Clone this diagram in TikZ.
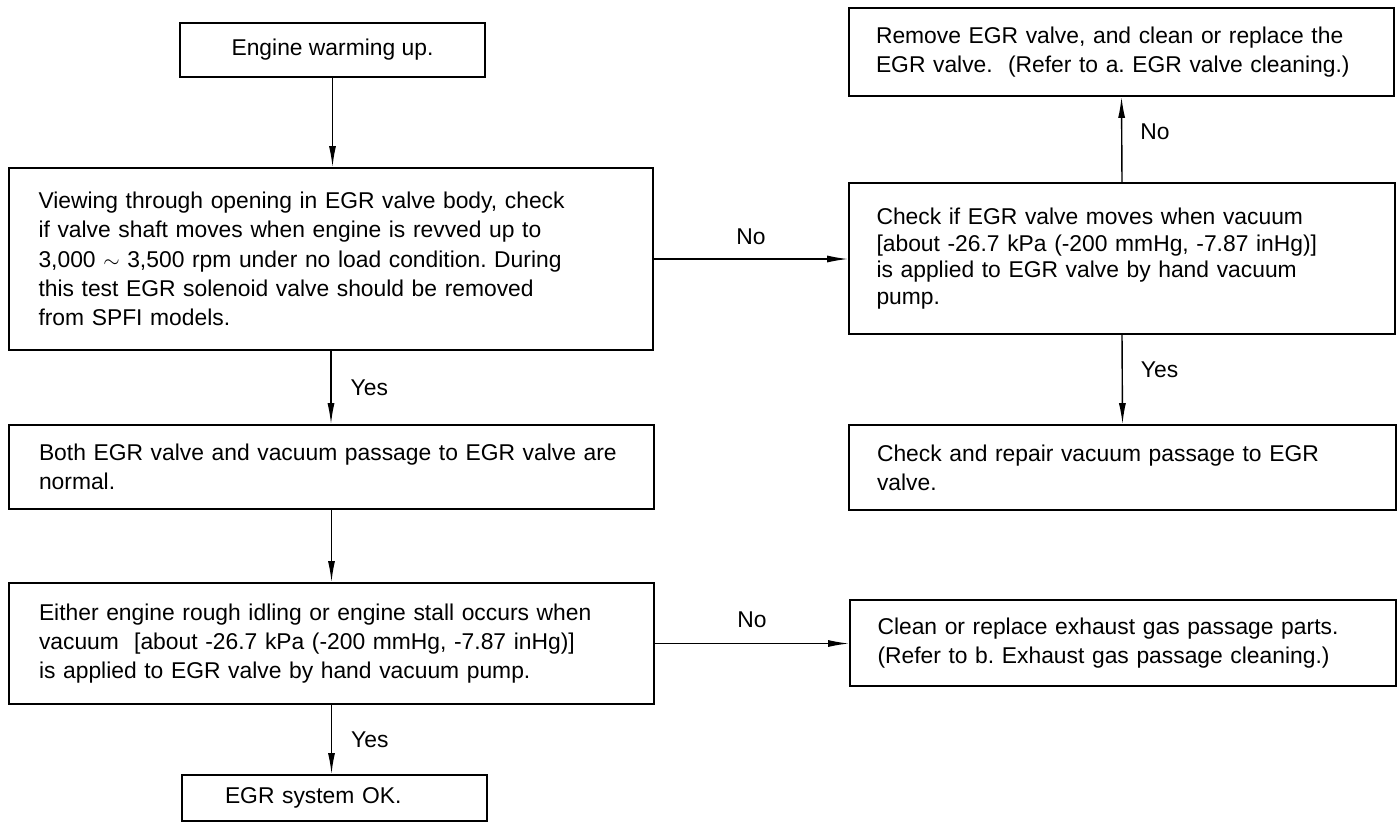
\documentclass[tikz,border=0pt]{standalone}
\usepackage{fontspec}
\setmainfont{Liberation Sans}
\usetikzlibrary{arrows.meta}
\frenchspacing

\begin{document}
\begin{tikzpicture}[every node/.style={font=\fontsize{13}{16.6}\selectfont},
    box/.style={draw, line width=1pt, inner sep=0pt, align=left},
    lbl/.style={inner sep=0pt},
    flow/.style={line width=0.8pt, -{Latex[length=0.42cm, width=0.14cm]}}]
    \useasboundingbox (0,0) rectangle (27.94,-16.48);

    % Left column
    \node[box, align=center, minimum width=6.1cm, minimum height=1.08cm] (warm) at (6.65,-1.0) {Engine warming up.};
    \node[box, text width=11.7cm, minimum width=12.88cm, minimum height=3.64cm] (view) at (6.62,-5.18) {Viewing through opening in EGR valve body, check\\if valve shaft moves when engine is revved up to\\3,000 $\sim$ 3,500 rpm under no load condition. During\\this test EGR solenoid valve should be removed\\from SPFI models.};
    \node[box, text width=11.7cm, minimum width=12.9cm, minimum height=1.68cm] (normal) at (6.63,-9.34) {\mbox{Both EGR valve and vacuum passage to EGR valve are}\\normal.};
    \node[box, text width=11.7cm, minimum width=12.9cm, minimum height=2.42cm] (idle) at (6.63,-12.87) {Either engine rough idling or engine stall occurs when\\vacuum\ \ [about -26.7 kPa (-200 mmHg, -7.87 inHg)]\\is applied to EGR valve by hand vacuum pump.};
    \node[box, text width=4.38cm, minimum width=6.1cm, minimum height=0.92cm] (ok) at (6.69,-15.96) {EGR system OK.};

    % Right column
    \node[box, text width=9.82cm, minimum width=10.9cm, minimum height=1.76cm] (remove) at (22.43,-1.04) {Remove EGR valve, and clean or replace the\\\mbox{EGR valve.\ \ (Refer to a. EGR valve cleaning.)}};
    \node[box, font=\fontsize{13}{15.2}\selectfont, text width=9.82cm, minimum width=10.92cm, minimum height=3.02cm] (check) at (22.44,-5.17) {Check if EGR valve moves when vacuum\\{}[about -26.7 kPa (-200 mmHg, -7.87 inHg)]\\is applied to EGR valve by hand vacuum\\pump.};
    \node[box, text width=9.82cm, minimum width=10.94cm, minimum height=1.7cm] (repair) at (22.45,-9.35) {Check and repair vacuum passage to EGR\\valve.};
    \node[box, text width=9.82cm, minimum width=10.92cm, minimum height=1.72cm] (exhaust) at (22.46,-12.86) {Clean or replace exhaust gas passage parts.\\(Refer to b. Exhaust gas passage cleaning.)};

    % Arrows
    \draw[flow] (warm.south) -- (warm.south |- view.north);
    \draw[flow] (view.south) -- node[lbl, right, xshift=0.38cm] (yesa) {Yes} (view.south |- normal.north);
    \draw[flow] (normal.south) -- (normal.south |- idle.north);
    \draw[flow] (idle.south) -- node[lbl, right, xshift=0.38cm] (yesb) {Yes} (idle.south |- ok.north);
    \draw[flow] (view.east) -- node[lbl, above, yshift=0.28cm] (noa) {No} (view.east -| check.west);
    \draw[flow] (check.north) -- node[lbl, right, xshift=0.36cm, yshift=0.15cm] (nob) {No} (remove.south);
    \draw[flow] (check.south) -- node[lbl, right, xshift=0.36cm, yshift=0.19cm] (yesc) {Yes} (repair.north);
    \draw[flow] (idle.east) -- node[lbl, above, yshift=0.3cm] (noc) {No} (idle.east -| exhaust.west);
\end{tikzpicture}
\end{document}
